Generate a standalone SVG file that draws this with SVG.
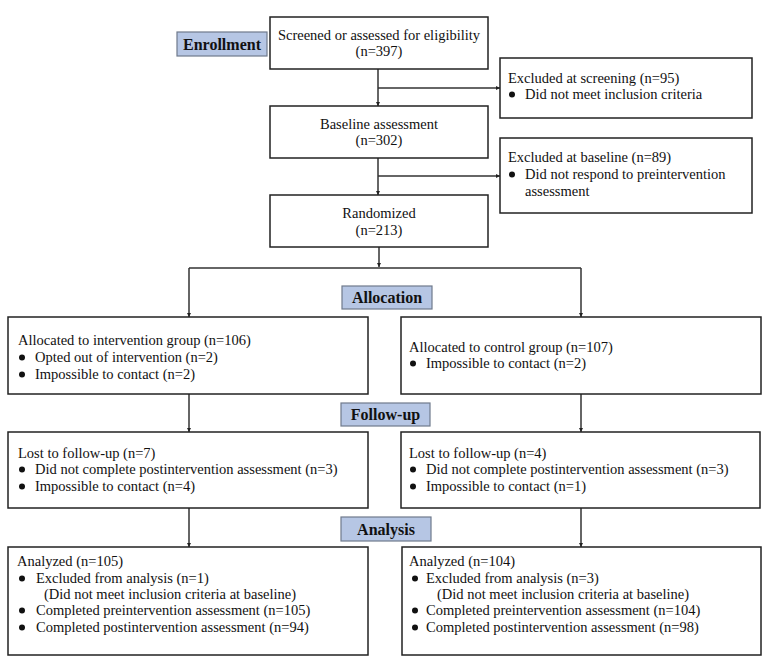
<svg xmlns="http://www.w3.org/2000/svg" width="776" height="663" viewBox="0 0 776 663">
<style>
.box{fill:#fff;stroke:#222;stroke-width:1.5}
.lab{fill:#b6c6e4;stroke:#6f7a8c;stroke-width:1.2}
.t{font-family:"Liberation Serif","Times New Roman",serif;font-size:14.5px;fill:#111}
.c{text-anchor:middle}
.lt{font-family:"Liberation Serif","Times New Roman",serif;font-size:16px;font-weight:bold;fill:#111;text-anchor:middle}
.ln{fill:none;stroke:#333;stroke-width:1.5}
.b{fill:#111}
</style>
<defs>
<marker id="ah" viewBox="0 0 6 6" refX="6" refY="3" markerWidth="4" markerHeight="4" markerUnits="userSpaceOnUse" orient="auto">
<path d="M0,0 L6,3 L0,6 z" fill="#222"/>
</marker>
</defs>
<g id="connectors">
<path class="ln" d="M378,69 V106" marker-end="url(#ah)"/>
<path class="ln" d="M378,88 H500" marker-end="url(#ah)"/>
<path class="ln" d="M378,158 V195" marker-end="url(#ah)"/>
<path class="ln" d="M378,176 H500" marker-end="url(#ah)"/>
<path class="ln" d="M379,247 V267" marker-end="url(#ah)"/>
<path class="ln" d="M189,268 H581"/>
<path class="ln" d="M189,268 V317" marker-end="url(#ah)"/>
<path class="ln" d="M581,268 V317" marker-end="url(#ah)"/>
<path class="ln" d="M189,394 V432" marker-end="url(#ah)"/>
<path class="ln" d="M581,394 V432" marker-end="url(#ah)"/>
<path class="ln" d="M189,508 V547" marker-end="url(#ah)"/>
<path class="ln" d="M581,508 V547" marker-end="url(#ah)"/>
</g>
<g id="label-enrollment">
<rect class="lab" x="177" y="32" width="90" height="24"/>
<text class="lt" x="222" y="49.5">Enrollment</text>
</g>
<g id="label-allocation">
<rect class="lab" x="342" y="286" width="90" height="23"/>
<text class="lt" x="387" y="303">Allocation</text>
</g>
<g id="label-followup">
<rect class="lab" x="341" y="403" width="89" height="23"/>
<text class="lt" x="385.5" y="420">Follow-up</text>
</g>
<g id="label-analysis">
<rect class="lab" x="341" y="517" width="90" height="24"/>
<text class="lt" x="386" y="534.5">Analysis</text>
</g>
<g id="screened">
<rect class="box" x="270" y="17" width="218" height="52"/>
<text class="t c" x="379" y="40">Screened or assessed for eligibility</text>
<text class="t c" x="379" y="56">(n=397)</text>
</g>
<g id="excluded-screening">
<rect class="box" x="500" y="58" width="252" height="60"/>
<text class="t" x="508" y="83">Excluded at screening (n=95)</text>
<circle class="b" cx="512" cy="94.5" r="3"/>
<text class="t" x="525" y="99">Did not meet inclusion criteria</text>
</g>
<g id="baseline">
<rect class="box" x="270" y="106" width="218" height="52"/>
<text class="t c" x="379" y="129">Baseline assessment</text>
<text class="t c" x="379" y="145">(n=302)</text>
</g>
<g id="excluded-baseline">
<rect class="box" x="500" y="138" width="252" height="75"/>
<text class="t" x="508" y="162">Excluded at baseline (n=89)</text>
<circle class="b" cx="512" cy="174.5" r="3"/>
<text class="t" x="525" y="179">Did not respond to preintervention</text>
<text class="t" x="525" y="196">assessment</text>
</g>
<g id="randomized">
<rect class="box" x="270" y="195" width="218" height="52"/>
<text class="t c" x="379" y="218">Randomized</text>
<text class="t c" x="379" y="235">(n=213)</text>
</g>
<g id="allocated-intervention">
<rect class="box" x="8" y="317" width="360" height="77"/>
<text class="t" x="18" y="345">Allocated to intervention group (n=106)</text>
<circle class="b" cx="22" cy="357.5" r="3"/>
<text class="t" x="35" y="362">Opted out of intervention (n=2)</text>
<circle class="b" cx="22" cy="374.5" r="3"/>
<text class="t" x="35" y="379">Impossible to contact (n=2)</text>
</g>
<g id="allocated-control">
<rect class="box" x="401" y="317" width="360" height="77"/>
<text class="t" x="409" y="352">Allocated to control group (n=107)</text>
<circle class="b" cx="413" cy="363.5" r="3"/>
<text class="t" x="426" y="368">Impossible to contact (n=2)</text>
</g>
<g id="lost-intervention">
<rect class="box" x="8" y="432" width="360" height="76"/>
<text class="t" x="18" y="458">Lost to follow-up (n=7)</text>
<circle class="b" cx="22" cy="469.5" r="3"/>
<text class="t" x="35" y="474">Did not complete postintervention assessment (n=3)</text>
<circle class="b" cx="22" cy="486.5" r="3"/>
<text class="t" x="35" y="491">Impossible to contact (n=4)</text>
</g>
<g id="lost-control">
<rect class="box" x="401" y="432" width="359" height="76"/>
<text class="t" x="409" y="458">Lost to follow-up (n=4)</text>
<circle class="b" cx="413" cy="469.5" r="3"/>
<text class="t" x="426" y="474">Did not complete postintervention assessment (n=3)</text>
<circle class="b" cx="413" cy="486.5" r="3"/>
<text class="t" x="426" y="491">Impossible to contact (n=1)</text>
</g>
<g id="analyzed-intervention">
<rect class="box" x="8" y="547" width="360" height="108"/>
<text class="t" x="17" y="566">Analyzed (n=105)</text>
<circle class="b" cx="22" cy="578.5" r="3"/>
<text class="t" x="36" y="583">Excluded from analysis (n=1)</text>
<text class="t" x="44" y="599">(Did not meet inclusion criteria at baseline)</text>
<circle class="b" cx="22" cy="610.5" r="3"/>
<text class="t" x="36" y="615">Completed preintervention assessment (n=105)</text>
<circle class="b" cx="22" cy="627.5" r="3"/>
<text class="t" x="36" y="632">Completed postintervention assessment (n=94)</text>
</g>
<g id="analyzed-control">
<rect class="box" x="402" y="547" width="359" height="108"/>
<text class="t" x="409" y="566">Analyzed (n=104)</text>
<circle class="b" cx="415" cy="578.5" r="3"/>
<text class="t" x="426" y="583">Excluded from analysis (n=3)</text>
<text class="t" x="437" y="599">(Did not meet inclusion criteria at baseline)</text>
<circle class="b" cx="415" cy="610.5" r="3"/>
<text class="t" x="426" y="615">Completed preintervention assessment (n=104)</text>
<circle class="b" cx="415" cy="627.5" r="3"/>
<text class="t" x="426" y="632">Completed postintervention assessment (n=98)</text>
</g>
</svg>
